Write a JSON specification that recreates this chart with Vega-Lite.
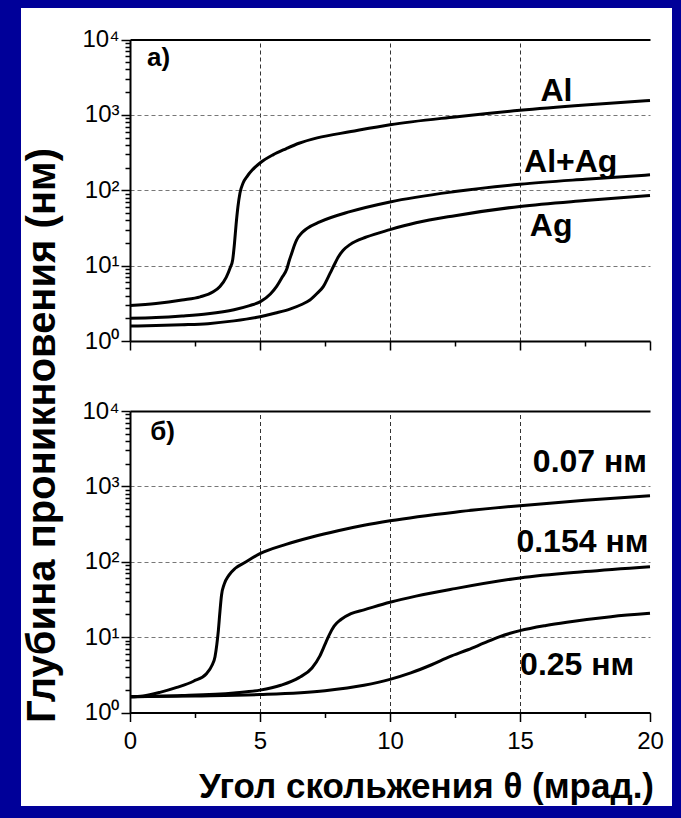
{
  "$schema": "https://vega.github.io/schema/vega-lite/v6.json",
  "width": 651,
  "height": 798,
  "autosize": "none",
  "padding": {"left": 21, "top": 8, "right": 9, "bottom": 12},
  "background": "#000099",
  "config": {
    "view": {"fill": "white", "stroke": null},
    "font": "Liberation Sans",
    "axis": {"labelColor": "black", "titleColor": "black", "domainColor": "black", "tickColor": "black"}
  },
  "datasets": {
    "curvesA": [
      {"series": "Al", "theta": 0, "depth": 2.95}, {"series": "Al", "theta": 1, "depth": 3.15}, {"series": "Al", "theta": 2, "depth": 3.5},
      {"series": "Al", "theta": 2.7, "depth": 3.85}, {"series": "Al", "theta": 3.2, "depth": 4.5}, {"series": "Al", "theta": 3.46, "depth": 5.3},
      {"series": "Al", "theta": 3.7, "depth": 7.0}, {"series": "Al", "theta": 3.85, "depth": 9.3}, {"series": "Al", "theta": 3.95, "depth": 12},
      {"series": "Al", "theta": 4.02, "depth": 20}, {"series": "Al", "theta": 4.08, "depth": 35}, {"series": "Al", "theta": 4.15, "depth": 60},
      {"series": "Al", "theta": 4.23, "depth": 92}, {"series": "Al", "theta": 4.35, "depth": 125}, {"series": "Al", "theta": 4.5, "depth": 152},
      {"series": "Al", "theta": 4.7, "depth": 185}, {"series": "Al", "theta": 5, "depth": 230}, {"series": "Al", "theta": 5.5, "depth": 295},
      {"series": "Al", "theta": 6, "depth": 355}, {"series": "Al", "theta": 6.5, "depth": 420}, {"series": "Al", "theta": 7.2, "depth": 495},
      {"series": "Al", "theta": 8.5, "depth": 600}, {"series": "Al", "theta": 10, "depth": 740}, {"series": "Al", "theta": 12.5, "depth": 940},
      {"series": "Al", "theta": 15, "depth": 1150}, {"series": "Al", "theta": 17.5, "depth": 1350}, {"series": "Al", "theta": 20, "depth": 1550},

      {"series": "Al+Ag", "theta": 0, "depth": 2.0}, {"series": "Al+Ag", "theta": 1, "depth": 2.05}, {"series": "Al+Ag", "theta": 2, "depth": 2.15},
      {"series": "Al+Ag", "theta": 3, "depth": 2.3}, {"series": "Al+Ag", "theta": 4, "depth": 2.6}, {"series": "Al+Ag", "theta": 4.6, "depth": 2.95},
      {"series": "Al+Ag", "theta": 5, "depth": 3.3}, {"series": "Al+Ag", "theta": 5.4, "depth": 4.2}, {"series": "Al+Ag", "theta": 5.64, "depth": 5.3},
      {"series": "Al+Ag", "theta": 5.85, "depth": 7.0}, {"series": "Al+Ag", "theta": 6.03, "depth": 9.0}, {"series": "Al+Ag", "theta": 6.12, "depth": 11.5},
      {"series": "Al+Ag", "theta": 6.22, "depth": 14.6}, {"series": "Al+Ag", "theta": 6.32, "depth": 18.5}, {"series": "Al+Ag", "theta": 6.41, "depth": 22},
      {"series": "Al+Ag", "theta": 6.6, "depth": 27}, {"series": "Al+Ag", "theta": 6.8, "depth": 31}, {"series": "Al+Ag", "theta": 7.3, "depth": 38},
      {"series": "Al+Ag", "theta": 8.46, "depth": 52}, {"series": "Al+Ag", "theta": 10, "depth": 70}, {"series": "Al+Ag", "theta": 12.5, "depth": 96},
      {"series": "Al+Ag", "theta": 15, "depth": 120}, {"series": "Al+Ag", "theta": 17.5, "depth": 140}, {"series": "Al+Ag", "theta": 20, "depth": 160},

      {"series": "Ag", "theta": 0, "depth": 1.58}, {"series": "Ag", "theta": 1, "depth": 1.6}, {"series": "Ag", "theta": 2, "depth": 1.64},
      {"series": "Ag", "theta": 3, "depth": 1.7}, {"series": "Ag", "theta": 4, "depth": 1.85}, {"series": "Ag", "theta": 5, "depth": 2.1},
      {"series": "Ag", "theta": 5.6, "depth": 2.35}, {"series": "Ag", "theta": 6.15, "depth": 2.65}, {"series": "Ag", "theta": 6.6, "depth": 3.05},
      {"series": "Ag", "theta": 6.92, "depth": 3.5}, {"series": "Ag", "theta": 7.2, "depth": 4.3}, {"series": "Ag", "theta": 7.44, "depth": 5.3},
      {"series": "Ag", "theta": 7.62, "depth": 7.0}, {"series": "Ag", "theta": 7.76, "depth": 8.8}, {"series": "Ag", "theta": 7.9, "depth": 11},
      {"series": "Ag", "theta": 8.01, "depth": 13}, {"series": "Ag", "theta": 8.2, "depth": 16}, {"series": "Ag", "theta": 8.46, "depth": 19},
      {"series": "Ag", "theta": 9.1, "depth": 24}, {"series": "Ag", "theta": 10, "depth": 30}, {"series": "Ag", "theta": 11, "depth": 37},
      {"series": "Ag", "theta": 12.5, "depth": 46}, {"series": "Ag", "theta": 15, "depth": 61}, {"series": "Ag", "theta": 17.5, "depth": 73},
      {"series": "Ag", "theta": 20, "depth": 85}
    ],
    "curvesB": [
      {"series": "0.07", "theta": 0, "depth": 1.62}, {"series": "0.07", "theta": 0.5, "depth": 1.66}, {"series": "0.07", "theta": 1.15, "depth": 1.85},
      {"series": "0.07", "theta": 1.8, "depth": 2.15}, {"series": "0.07", "theta": 2.44, "depth": 2.6}, {"series": "0.07", "theta": 2.95, "depth": 3.3},
      {"series": "0.07", "theta": 3.15, "depth": 4.2}, {"series": "0.07", "theta": 3.27, "depth": 5.5}, {"series": "0.07", "theta": 3.34, "depth": 8},
      {"series": "0.07", "theta": 3.4, "depth": 12.4}, {"series": "0.07", "theta": 3.46, "depth": 22}, {"series": "0.07", "theta": 3.52, "depth": 36},
      {"series": "0.07", "theta": 3.62, "depth": 50}, {"series": "0.07", "theta": 3.8, "depth": 66}, {"series": "0.07", "theta": 4.05, "depth": 82},
      {"series": "0.07", "theta": 4.4, "depth": 97}, {"series": "0.07", "theta": 5, "depth": 128}, {"series": "0.07", "theta": 6, "depth": 170},
      {"series": "0.07", "theta": 7, "depth": 213}, {"series": "0.07", "theta": 8, "depth": 258}, {"series": "0.07", "theta": 9, "depth": 305},
      {"series": "0.07", "theta": 10, "depth": 350}, {"series": "0.07", "theta": 12.5, "depth": 455}, {"series": "0.07", "theta": 15, "depth": 555},
      {"series": "0.07", "theta": 17.5, "depth": 655}, {"series": "0.07", "theta": 20, "depth": 750},

      {"series": "0.154", "theta": 0, "depth": 1.62}, {"series": "0.154", "theta": 2, "depth": 1.68}, {"series": "0.154", "theta": 4, "depth": 1.82},
      {"series": "0.154", "theta": 5, "depth": 1.98}, {"series": "0.154", "theta": 5.8, "depth": 2.3}, {"series": "0.154", "theta": 6.5, "depth": 2.9},
      {"series": "0.154", "theta": 7.0, "depth": 3.9}, {"series": "0.154", "theta": 7.3, "depth": 5.6}, {"series": "0.154", "theta": 7.5, "depth": 8},
      {"series": "0.154", "theta": 7.65, "depth": 10.5}, {"series": "0.154", "theta": 7.85, "depth": 14}, {"series": "0.154", "theta": 8.1, "depth": 17},
      {"series": "0.154", "theta": 8.5, "depth": 20.5}, {"series": "0.154", "theta": 9, "depth": 23}, {"series": "0.154", "theta": 10, "depth": 29},
      {"series": "0.154", "theta": 11, "depth": 35}, {"series": "0.154", "theta": 12.5, "depth": 44}, {"series": "0.154", "theta": 15, "depth": 61},
      {"series": "0.154", "theta": 17.5, "depth": 74}, {"series": "0.154", "theta": 20, "depth": 86},

      {"series": "0.25", "theta": 0, "depth": 1.62}, {"series": "0.25", "theta": 2.5, "depth": 1.66}, {"series": "0.25", "theta": 5, "depth": 1.73},
      {"series": "0.25", "theta": 7.5, "depth": 1.95}, {"series": "0.25", "theta": 9, "depth": 2.3}, {"series": "0.25", "theta": 10, "depth": 2.75},
      {"series": "0.25", "theta": 10.8, "depth": 3.35}, {"series": "0.25", "theta": 11.6, "depth": 4.3}, {"series": "0.25", "theta": 12.3, "depth": 5.5},
      {"series": "0.25", "theta": 13, "depth": 6.8}, {"series": "0.25", "theta": 13.6, "depth": 8.3}, {"series": "0.25", "theta": 14.2, "depth": 10.1},
      {"series": "0.25", "theta": 15, "depth": 12.2}, {"series": "0.25", "theta": 16, "depth": 14.3}, {"series": "0.25", "theta": 16.8, "depth": 15.8},
      {"series": "0.25", "theta": 18.5, "depth": 18.7}, {"series": "0.25", "theta": 20, "depth": 20.7}
    ],
    "labelsA": [
      {"theta": 16.4, "depth": 2050, "name": "Al"},
      {"theta": 16.95, "depth": 240, "name": "Al+Ag"},
      {"theta": 16.2, "depth": 34, "name": "Ag"}
    ],
    "labelsB": [
      {"theta": 17.69, "depth": 2130, "name": "0.07 нм"},
      {"theta": 17.4, "depth": 184, "name": "0.154 нм"},
      {"theta": 17.2, "depth": 4.27, "name": "0.25 нм"}
    ],
    "tagA": [{"theta": 1.1, "depth": 5600, "name": "а)"}],
    "tagB": [{"theta": 1.25, "depth": 5300, "name": "б)"}]
  },
  "layer": [
    {
      "layer": [
        {
          "data": {"name": "curvesA"},
          "mark": {"type": "line", "color": "black", "strokeWidth": 3, "interpolate": "monotone"},
          "encoding": {
            "x": {
              "field": "theta", "type": "quantitative",
              "scale": {"domain": [0, 20], "range": [109, 629], "nice": false, "zero": false},
              "axis": {
                "orient": "top", "offset": -31.5, "title": null, "labels": false, "ticks": false,
                "domain": true, "domainWidth": 2, "values": [5, 10, 15],
                "grid": true, "gridDash": [4, 3], "gridColor": "#333", "gridWidth": 1
              }
            },
            "y": {
              "field": "depth", "type": "quantitative",
              "scale": {"type": "log", "domain": [1, 10000], "range": [333, 31.5], "nice": false},
              "axis": {
                "orient": "left", "offset": -109,
                "values": [1, 2, 3, 4, 5, 6, 7, 8, 9, 10, 20, 30, 40, 50, 60, 70, 80, 90, 100, 200, 300, 400, 500, 600, 700, 800, 900, 1000, 2000, 3000, 4000, 5000, 6000, 7000, 8000, 9000, 10000],
                "labelExpr": "indexof([1, 10, 100, 1000, 10000], datum.value) >= 0 ? '10' + ['⁰', '¹', '²', '³', '⁴'][round(log(datum.value) / LN10)] : ''",
                "tickSize": {"condition": {"test": "indexof([1, 10, 100, 1000, 10000], datum.value) >= 0", "value": 9}, "value": 5},
                "tickWidth": 1.5,
                "grid": true,
                "gridOpacity": {"condition": {"test": "indexof([10, 100, 1000], datum.value) >= 0", "value": 1}, "value": 0},
                "gridDash": [4, 3], "gridColor": "#777", "gridWidth": 1,
                "domainWidth": 2,
                "labelFont": "Liberation Sans", "labelFontSize": 24, "labelPadding": 2,
                "labelOverlap": false, "labelFlush": false, "labelBound": false,
                "title": "Глубина проникновения (нм)",
                "titleFont": "Liberation Sans", "titleFontWeight": "bold", "titleFontSize": 40,
                "titleAngle": -90, "titleX": -88, "titleY": 427,
                "titleAlign": "center", "titleBaseline": "middle"
              }
            },
            "detail": {"field": "series"}
          }
        },
        {
          "data": {"name": "labelsA"},
          "mark": {"type": "text", "font": "Liberation Sans", "fontWeight": "bold", "fontSize": 32, "color": "black", "baseline": "middle", "align": "center"},
          "encoding": {
            "x": {
              "field": "theta", "type": "quantitative",
              "scale": {"domain": [0, 20], "range": [109, 629], "nice": false, "zero": false},
              "axis": {
                "orient": "bottom", "offset": -465, "title": null, "grid": false, "domain": true, "domainWidth": 2,
                "values": [0, 2.5, 5, 7.5, 10, 12.5, 15, 17.5, 20], "labels": false,
                "tickSize": {"condition": {"test": "datum.value % 5 === 0", "value": 9}, "value": 5},
                "tickWidth": 1.5
              }
            },
            "y": {"field": "depth", "type": "quantitative", "scale": {"type": "log", "domain": [1, 10000], "range": [333, 31.5], "nice": false}},
            "text": {"field": "name"}
          }
        },
        {
          "data": {"name": "tagA"},
          "mark": {"type": "text", "font": "Liberation Sans", "fontWeight": "bold", "fontSize": 26, "color": "black", "baseline": "middle", "align": "center"},
          "encoding": {
            "x": {"field": "theta", "type": "quantitative", "scale": {"domain": [0, 20], "range": [109, 629], "nice": false, "zero": false}, "axis": null},
            "y": {"field": "depth", "type": "quantitative", "scale": {"type": "log", "domain": [1, 10000], "range": [333, 31.5], "nice": false}},
            "text": {"field": "name"}
          }
        },
        {
          "mark": {"type": "rule", "color": "black", "strokeWidth": 2},
          "encoding": {
            "x": {"datum": 20, "type": "quantitative", "scale": {"domain": [0, 20], "range": [109, 629], "nice": false, "zero": false}, "axis": null},
            "y": {"datum": 1, "type": "quantitative", "scale": {"type": "log", "domain": [1, 10000], "range": [333, 31.5], "nice": false}},
            "y2": {"datum": 10000}
          }
        }
      ],
      "resolve": {"axis": {"x": "independent"}}
    },
    {
      "layer": [
        {
          "data": {"name": "curvesB"},
          "mark": {"type": "line", "color": "black", "strokeWidth": 3, "interpolate": "monotone"},
          "encoding": {
            "x": {
              "field": "theta", "type": "quantitative",
              "scale": {"domain": [0, 20], "range": [109, 629], "nice": false, "zero": false},
              "axis": {
                "orient": "top", "offset": -403, "title": null, "labels": false, "ticks": false,
                "domain": true, "domainWidth": 2, "values": [5, 10, 15],
                "grid": true, "gridDash": [4, 3], "gridColor": "#333", "gridWidth": 1
              }
            },
            "y": {
              "field": "depth", "type": "quantitative",
              "scale": {"type": "log", "domain": [1, 10000], "range": [704.5, 403], "nice": false},
              "axis": {
                "orient": "left", "offset": -109,
                "values": [1, 2, 3, 4, 5, 6, 7, 8, 9, 10, 20, 30, 40, 50, 60, 70, 80, 90, 100, 200, 300, 400, 500, 600, 700, 800, 900, 1000, 2000, 3000, 4000, 5000, 6000, 7000, 8000, 9000, 10000],
                "labelExpr": "indexof([1, 10, 100, 1000, 10000], datum.value) >= 0 ? '10' + ['⁰', '¹', '²', '³', '⁴'][round(log(datum.value) / LN10)] : ''",
                "tickSize": {"condition": {"test": "indexof([1, 10, 100, 1000, 10000], datum.value) >= 0", "value": 9}, "value": 5},
                "tickWidth": 1.5,
                "grid": true,
                "gridOpacity": {"condition": {"test": "indexof([10, 100, 1000], datum.value) >= 0", "value": 1}, "value": 0},
                "gridDash": [4, 3], "gridColor": "#777", "gridWidth": 1,
                "domainWidth": 2,
                "labelFont": "Liberation Sans", "labelFontSize": 24, "labelPadding": 2,
                "labelOverlap": false, "labelFlush": false, "labelBound": false,
                "title": null
              }
            },
            "detail": {"field": "series"}
          }
        },
        {
          "data": {"name": "labelsB"},
          "mark": {"type": "text", "font": "Liberation Sans", "fontWeight": "bold", "fontSize": 32, "color": "black", "baseline": "middle", "align": "center"},
          "encoding": {
            "x": {
              "field": "theta", "type": "quantitative",
              "scale": {"domain": [0, 20], "range": [109, 629], "nice": false, "zero": false},
              "axis": {
                "orient": "bottom", "offset": -93.5, "grid": false, "domain": true, "domainWidth": 2,
                "values": [0, 2.5, 5, 7.5, 10, 12.5, 15, 17.5, 20],
                "labelExpr": "datum.value % 5 === 0 ? format(datum.value, 'd') : ''",
                "labelFont": "Liberation Sans", "labelFontSize": 24, "labelPadding": 8,
                "labelOverlap": false, "labelFlush": false, "labelBound": false,
                "tickSize": {"condition": {"test": "datum.value % 5 === 0", "value": 9}, "value": 5},
                "tickWidth": 1.5,
                "title": "Угол скольжения θ (мрад.)",
                "titleFont": "Liberation Sans", "titleFontWeight": "bold", "titleFontSize": 35,
                "titleX": 405, "titleY": 74, "titleAlign": "center", "titleBaseline": "middle"
              }
            },
            "y": {"field": "depth", "type": "quantitative", "scale": {"type": "log", "domain": [1, 10000], "range": [704.5, 403], "nice": false}},
            "text": {"field": "name"}
          }
        },
        {
          "data": {"name": "tagB"},
          "mark": {"type": "text", "font": "Liberation Sans", "fontWeight": "bold", "fontSize": 26, "color": "black", "baseline": "middle", "align": "center"},
          "encoding": {
            "x": {"field": "theta", "type": "quantitative", "scale": {"domain": [0, 20], "range": [109, 629], "nice": false, "zero": false}, "axis": null},
            "y": {"field": "depth", "type": "quantitative", "scale": {"type": "log", "domain": [1, 10000], "range": [704.5, 403], "nice": false}},
            "text": {"field": "name"}
          }
        },
        {
          "mark": {"type": "rule", "color": "black", "strokeWidth": 2},
          "encoding": {
            "x": {"datum": 20, "type": "quantitative", "scale": {"domain": [0, 20], "range": [109, 629], "nice": false, "zero": false}, "axis": null},
            "y": {"datum": 1, "type": "quantitative", "scale": {"type": "log", "domain": [1, 10000], "range": [704.5, 403], "nice": false}},
            "y2": {"datum": 10000}
          }
        }
      ],
      "resolve": {"axis": {"x": "independent"}}
    }
  ],
  "resolve": {
    "scale": {"y": "independent"},
    "axis": {"x": "independent", "y": "independent"}
  }
}
